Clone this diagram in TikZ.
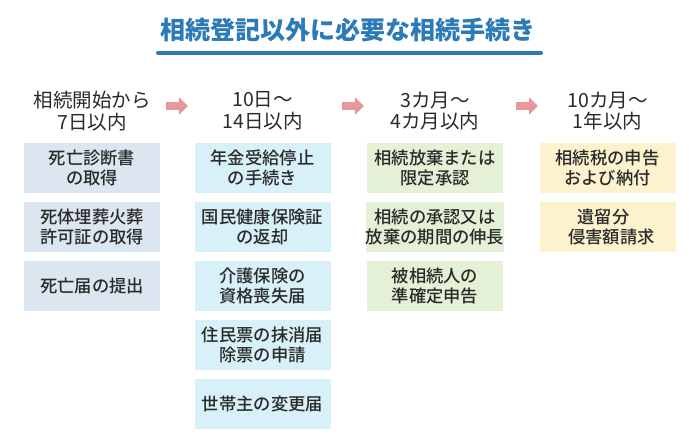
\documentclass[tikz,border=0pt]{standalone}
\usepackage{fontspec}
\setmainfont{Noto Sans CJK JP}
\newfontfamily\medfont{Noto Sans CJK JP Medium}
\usetikzlibrary{arrows.meta}
\definecolor{titleblue}{HTML}{2C7BB6}
\definecolor{txt}{HTML}{2A2A2A}
\definecolor{cA}{HTML}{DCE6F0}
\definecolor{cB}{HTML}{D8F0F8}
\definecolor{cC}{HTML}{E4F1D6}
\definecolor{cD}{HTML}{FDF2CE}
\definecolor{arr}{HTML}{E9979D}
\tikzset{
  hdr/.style={text=txt, align=center, font=\fontsize{19.5}{21.5}\selectfont, inner sep=0pt},
  box/.style={minimum width=136pt, minimum height=50pt, inner sep=0pt, align=center, text=txt, font=\medfont\fontsize{17.3}{20}\selectfont},
  flowarrow/.style={arr, line width=8pt, -{Triangle[length=9pt,width=17pt]}},
}
\begin{document}
\begin{tikzpicture}[x=1pt,y=-1pt]
\useasboundingbox (0,0) rectangle (700,440);
\fill[white] (0,0) rectangle (700,440);
% title
\node[text=titleblue, font=\fontsize{25}{28}\selectfont\bfseries, inner sep=0pt] (title) at (348,30) {相続登記以外に必要な相続手続き};
\coordinate (ulL) at (158,52.5);
\coordinate (ulR) at (541,52.5);
\draw[titleblue, line width=4pt, line cap=round] (ulL) -- (ulR);
% headers
\node[hdr] (h1) at (92,111) {相続開始から\\7日以内};
\node[hdr] (h2) at (262.5,111) {10日～\\14日以内};
\node[hdr] (h3) at (435,111) {3カ月～\\4カ月以内};
\node[hdr] (h4) at (607.5,111) {10カ月～\\1年以内};
% arrows
\coordinate (a1s) at (166,106); \coordinate (a1e) at (188,106);
\coordinate (a2s) at (342,106); \coordinate (a2e) at (364,106);
\coordinate (a3s) at (516,106); \coordinate (a3e) at (538,106);
\draw[flowarrow] (a1s) -- (a1e);
\draw[flowarrow] (a2s) -- (a2e);
\draw[flowarrow] (a3s) -- (a3e);
% column 1
\node[box, fill=cA] (b11) at (92,168) {死亡診断書\\の取得};
\node[box, fill=cA] (b12) at (92,227) {死体埋葬火葬\\許可証の取得};
\node[box, fill=cA] (b13) at (92,286) {死亡届の提出};
% column 2
\node[box, fill=cB] (b21) at (262.5,168) {年金受給停止\\の手続き};
\node[box, fill=cB] (b22) at (262.5,227) {国民健康保険証\\の返却};
\node[box, fill=cB] (b23) at (262.5,286) {介護保険の\\資格喪失届};
\node[box, fill=cB] (b24) at (262.5,345) {住民票の抹消届\\除票の申請};
\node[box, fill=cB] (b25) at (262.5,404) {世帯主の変更届};
% column 3
\node[box, fill=cC] (b31) at (435,168) {相続放棄または\\限定承認};
\node[box, fill=cC] (b32) at (435,227) {相続の承認又は\\放棄の期間の伸長};
\node[box, fill=cC] (b33) at (435,286) {被相続人の\\準確定申告};
% column 4
\node[box, fill=cD] (b41) at (607.5,168) {相続税の申告\\および納付};
\node[box, fill=cD] (b42) at (607.5,227) {遺留分\hspace*{8pt}\\\hspace*{8pt}侵害額請求};
\end{tikzpicture}
\end{document}
